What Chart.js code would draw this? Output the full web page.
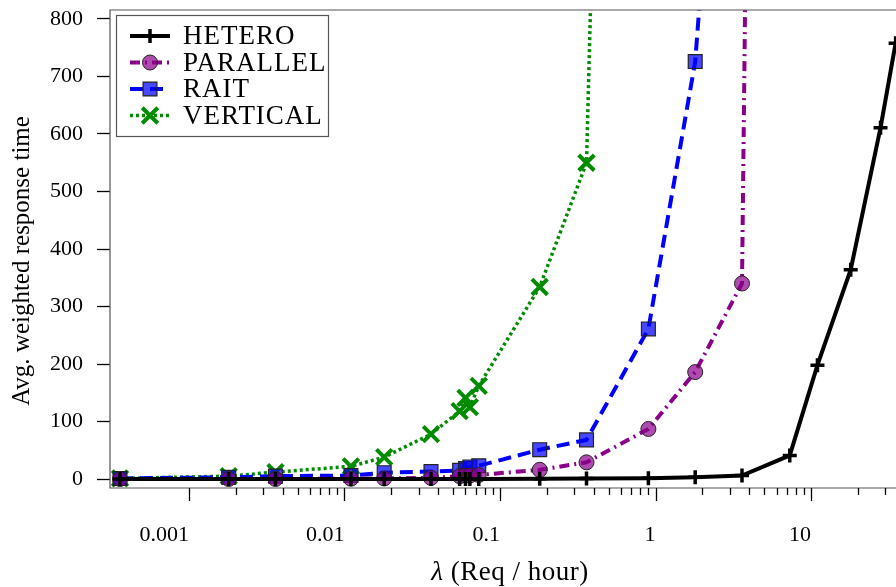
<!DOCTYPE html>
<html lang="en">
<head>
  <meta charset="UTF-8">
  <title>Avg. weighted response time</title>
  <script src="https://cdn.jsdelivr.net/npm/chart.js"></script>
  <style>
    html, body { margin: 0; padding: 0; background: #fff; overflow: hidden; }
    #wrap { width: 896px; height: 587px; }
  </style>
</head>
<body>
  <div id="wrap"><canvas id="respChart" width="896" height="587"></canvas></div>
  <script>
    // arrival rates (Req / hour), shared by every series
    const lambda = [0.00036, 0.0018, 0.0036, 0.011, 0.018, 0.036, 0.055, 0.06, 0.064, 0.073,
                    0.18, 0.36, 0.9, 1.8, 3.6, 7.3, 11, 18, 28, 35];

    // avg. weighted response time per scheme (series stop where they blow up)
    const hetero   = [0, 0, 0, 0, 0, 0, 0, 0, 0, 0, 0.5, 0.8, 1.5, 3, 6, 41, 198, 364, 611, 758];
    const parallel = [0, 0, 0, 0.5, 1, 2, 5, 6, 6, 7, 16, 29, 87, 186, 340, 7800];
    const rait     = [1, 3, 5, 6, 11, 13, 15, 18, 21, 23, 51, 68, 261, 726, 1800];
    const vertical = [1, 5, 12, 22, 38, 78, 118, 141, 125, 162, 334, 550, 4700];

    const seriesNames = ['HETERO', 'PARALLEL', 'RAIT', 'VERTICAL'];

    const yTicks = [0, 100, 200, 300, 400, 500, 600, 700, 800];
    const xMajorTicks = [0.001, 0.01, 0.1, 1, 10];
    const xTickLabels = ['0.001', '0.01', '0.1', '1', '10'];
    const xMinorSteps = [2, 3, 4, 5, 6, 7, 8, 9];

    // the plot runs past the right edge of the picture
    const X_MIN = 0.0003105;
    const X_MAX = 35.2;
    const SERIF = "'Liberation Serif', 'DejaVu Serif', serif";

    const xTickValues = [];
    xMajorTicks.forEach(m => {
      xTickValues.push(m);
      xMinorSteps.forEach(k => { if (k * m <= X_MAX) xTickValues.push(k * m); });
    });

    function toPoints(values) {
      return values.map((v, i) => ({ x: lambda[i], y: v }));
    }

    // box round the plot, log ticks on x, axis titles
    const frame = {
      id: 'frame',
      afterDraw(chart) {
        const { ctx, chartArea: a } = chart;
        const xs = chart.scales.x;
        ctx.save();
        ctx.strokeStyle = '#555';
        ctx.lineWidth = 1.2;
        ctx.beginPath();
        ctx.moveTo(a.right + 2, a.top);
        ctx.lineTo(a.left, a.top);
        ctx.lineTo(a.left, a.bottom);
        ctx.lineTo(a.right + 2, a.bottom);
        ctx.stroke();

        ctx.strokeStyle = '#000';
        ctx.lineWidth = 1.3;
        xTickValues.forEach(v => {
          const px = Math.round(xs.getPixelForValue(v)) + 0.5;
          const len = xMajorTicks.includes(v) ? 13 : 7;
          ctx.beginPath();
          ctx.moveTo(px, a.bottom);
          ctx.lineTo(px, a.bottom + len);
          ctx.stroke();
        });

        ctx.fillStyle = '#000';
        ctx.textBaseline = 'middle';

        // y title
        ctx.save();
        ctx.translate(22, 261);
        ctx.rotate(-Math.PI / 2);
        ctx.textAlign = 'center';
        ctx.font = '25px ' + SERIF;
        ctx.fillText('Avg. weighted response time', 0, 0);
        ctx.restore();

        // x title with italic lambda
        const cx = 510;
        const ty = 573;
        ctx.letterSpacing = '0.5px';
        ctx.font = 'italic 27px ' + SERIF;
        const w1 = ctx.measureText('λ').width;
        ctx.font = '27px ' + SERIF;
        const rest = ' (Req / hour)';
        const w2 = ctx.measureText(rest).width;
        const x0 = cx - (w1 + w2) / 2;
        ctx.textAlign = 'left';
        ctx.font = 'italic 27px ' + SERIF;
        ctx.fillText('λ', x0, ty);
        ctx.font = '27px ' + SERIF;
        ctx.fillText(rest, x0 + w1, ty);
        ctx.letterSpacing = '0px';
        ctx.restore();
      }
    };

    // legend inside the top-left corner
    const boxLegend = {
      id: 'boxLegend',
      afterDraw(chart) {
        const { ctx } = chart;
        const bx = 116.5, by = 15.5, bw = 212, bh = 121;
        ctx.save();
        ctx.fillStyle = '#fff';
        ctx.fillRect(bx, by, bw, bh);
        ctx.strokeStyle = '#555';
        ctx.lineWidth = 1.2;
        ctx.strokeRect(bx, by, bw, bh);

        chart.data.datasets.forEach((ds, i) => {
          const y = 36 + i * 26.5;
          ctx.setLineDash(ds.borderDash || []);
          ctx.strokeStyle = ds.borderColor;
          ctx.lineWidth = ds.borderWidth;
          ctx.beginPath();
          ctx.moveTo(130, y);
          ctx.lineTo(170, y);
          ctx.stroke();

          ctx.setLineDash([]);
          ctx.fillStyle = ds.pointBackgroundColor;
          ctx.strokeStyle = ds.pointBorderColor;
          ctx.lineWidth = ds.pointBorderWidth;
          Chart.helpers.drawPoint(ctx, {
            pointStyle: ds.pointStyle,
            radius: ds.pointRadius,
            borderWidth: ds.pointBorderWidth,
            rotation: 0
          }, 150, y);

          ctx.fillStyle = '#000';
          ctx.font = '27px ' + SERIF;
          ctx.letterSpacing = '1px';
          ctx.textAlign = 'left';
          ctx.textBaseline = 'middle';
          ctx.fillText(ds.label, 183, y + 1);
          ctx.letterSpacing = '0px';
        });
        ctx.restore();
      }
    };

    const ctx = document.getElementById('respChart').getContext('2d');

    new Chart(ctx, {
      type: 'line',
      data: {
        datasets: [
          {
            label: seriesNames[0],
            data: toPoints(hetero),
            borderColor: '#000',
            borderWidth: 4,
            pointStyle: 'cross',
            pointRadius: 7,
            pointBorderColor: '#000',
            pointBackgroundColor: '#000',
            pointBorderWidth: 3.5
          },
          {
            label: seriesNames[1],
            data: toPoints(parallel),
            borderColor: '#8B008B',
            borderWidth: 4,
            borderDash: [10, 5, 2, 5],
            pointStyle: 'circle',
            pointRadius: 7.5,
            pointBorderColor: '#222',
            pointBackgroundColor: 'rgba(139, 0, 139, 0.7)',
            pointBorderWidth: 1
          },
          {
            label: seriesNames[2],
            data: toPoints(rait),
            borderColor: '#0000FF',
            borderWidth: 4,
            borderDash: [13, 7],
            pointStyle: 'rect',
            pointRadius: 9.8,
            pointBorderColor: '#222',
            pointBackgroundColor: 'rgba(0, 0, 255, 0.72)',
            pointBorderWidth: 1.2
          },
          {
            label: seriesNames[3],
            data: toPoints(vertical),
            borderColor: '#008B00',
            borderWidth: 3.5,
            borderDash: [3, 3],
            pointStyle: 'crossRot',
            pointRadius: 11,
            pointBorderColor: '#008B00',
            pointBackgroundColor: '#008B00',
            pointBorderWidth: 4
          }
        ]
      },
      options: {
        responsive: false,
        maintainAspectRatio: false,
        animation: false,
        layout: { autoPadding: false, padding: { top: 10, left: 0, right: 0, bottom: 0 } },
        elements: { line: { tension: 0, fill: false } },
        plugins: {
          legend: { display: false },
          tooltip: { enabled: false }
        },
        scales: {
          x: {
            type: 'logarithmic',
            bounds: 'data',
            min: X_MIN,
            max: X_MAX,
            grid: { display: false, drawTicks: false },
            border: { display: false },
            afterBuildTicks: scale => {
              scale.ticks = xTickValues.map(v => ({ value: v, major: xMajorTicks.includes(v) }));
              scale.min = X_MIN;
              scale.max = X_MAX;
            },
            afterFit: scale => {
              scale.height = 99;
              scale.paddingLeft = 0; scale.paddingRight = 0;
              scale.paddingTop = 0; scale.paddingBottom = 0;
            },
            ticks: {
              autoSkip: false,
              maxRotation: 0,
              align: 'end',
              padding: 34,
              color: '#000',
              font: { family: SERIF, size: 22, lineHeight: 1.2 },
              callback: value => {
                const i = xMajorTicks.indexOf(value);
                return i >= 0 ? xTickLabels[i] : '';
              }
            }
          },
          y: {
            min: -15.65,
            max: 815.65,
            grid: { display: true, drawOnChartArea: false, drawTicks: true, tickLength: 13, tickColor: '#000', tickWidth: 1.3 },
            border: { display: false },
            afterBuildTicks: scale => {
              scale.ticks = yTicks.map(v => ({ value: v }));
            },
            afterFit: scale => {
              scale.width = 110;
              scale.paddingLeft = 0; scale.paddingRight = 0;
              scale.paddingTop = 0; scale.paddingBottom = 0;
            },
            ticks: {
              padding: 14,
              color: '#000',
              font: { family: SERIF, size: 22, lineHeight: 1.2 }
            },
            title: { display: false }
          }
        }
      },
      plugins: [frame, boxLegend]
    });
  </script>
</body>
</html>
